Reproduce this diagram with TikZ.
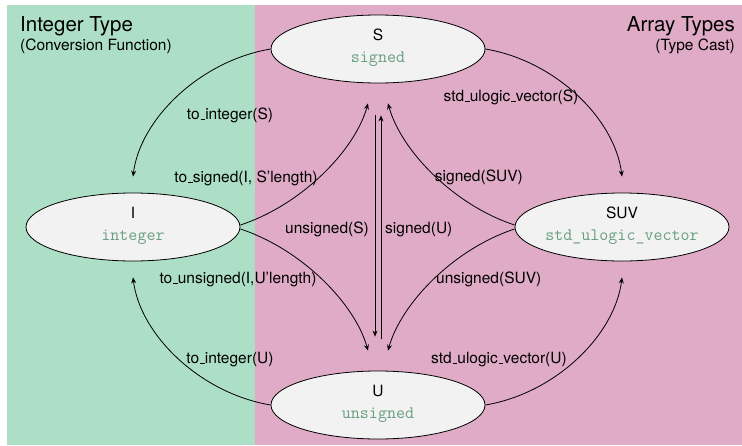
\documentclass[tikz,border=0pt]{standalone}
\usepackage{fontspec}
\setmainfont{TeX Gyre Heros}
\usetikzlibrary{shapes.geometric,arrows.meta,calc}
\definecolor{intbg}{RGB}{173,223,199}
\definecolor{arrbg}{RGB}{223,171,199}
\definecolor{nodefill}{RGB}{242,242,242}
\definecolor{typetext}{RGB}{104,158,130}
\newcommand\lblsize{\fontsize{15.5}{18}\selectfont}
\newcommand\monosize{\fontsize{17.5}{20}\selectfont}
\newcommand\titlesize{\fontsize{20.5}{24}\selectfont}
% low rule used as underscore in function names
\newcommand\usc{\leavevmode\kern.06em\vbox{\hrule width.3em}}
\tikzset{
  typenode/.style={ellipse, draw=black, line width=0.8pt, fill=nodefill,
    minimum width=214pt, minimum height=68pt, inner sep=0pt},
  shortname/.style={font=\lblsize, inner sep=0pt, anchor=base},
  typename/.style={font=\monosize\ttfamily, text=typetext, inner sep=0pt, anchor=base},
  conv/.style={-{Stealth[length=6pt,width=5pt,inset=2pt]}, line width=0.8pt},
  lbl/.style={font=\lblsize, inner sep=0pt, anchor=base},
  heading/.style={font=\titlesize, inner sep=0pt},
  subheading/.style={font=\lblsize, inner sep=0pt},
}
\begin{document}
\begin{tikzpicture}[x=1pt,y=-1pt]
  % canvas and the two type regions
  \useasboundingbox (0,0) rectangle (742,445);
  \fill[white] (0,0) rectangle (742,445);
  \fill[intbg] (7,5) rectangle (255,445);
  \fill[arrbg] (255,5) rectangle (742,445);

  % region headings
  \node[heading, anchor=base west] (inthead) at (20,31) {Integer Type};
  \node[subheading, anchor=base west] (intsub) at (20,50) {(Conversion Function)};
  \node[heading, anchor=base east] (arrhead) at (735,31) {Array Types};
  \node[subheading, anchor=base east] (arrsub) at (735,50) {(Type Cast)};

  % the four types
  \node[typenode] (S) at (378,49) {};
  \node[typenode] (I) at (133,227) {};
  \node[typenode] (SUV) at (622,227) {};
  \node[typenode] (U) at (378,405) {};

  \foreach \nm/\abbr/\full in {S/S/signed, I/I/integer, SUV/SUV/std\_ulogic\_vector, U/U/unsigned}{
    \node[shortname] (\nm-abbr) at ($(\nm.center)+(0,-9)$) {\abbr};
    \node[typename] (\nm-full) at ($(\nm.center)+(0,13)$) {\full};
  }

  % conversion functions (integer side)
  \draw[conv] (S.west) .. controls +(-71,12) and +(7,-57) .. ($(I.north)+(0,-16)$);
  \draw[conv] ($(I.east)+(0,-2)$) .. controls +(61,-20) and +(-13,47) .. ($(S.south)+(-10,20)$);
  \draw[conv] ($(I.east)+(0,2)$) .. controls +(61,20) and +(-13,-47) .. ($(U.north)+(-10,-20)$);
  \draw[conv] (U.west) .. controls +(-71,-12) and +(7,57) .. ($(I.south)+(0,16)$);

  % type casts (array side)
  \draw[conv] (S.east) .. controls +(71,12) and +(-7,-57) .. ($(SUV.north)+(0,-16)$);
  \draw[conv] ($(SUV.west)+(0,-2)$) .. controls +(-61,-20) and +(13,47) .. ($(S.south)+(10,20)$);
  \draw[conv] ($(SUV.west)+(0,2)$) .. controls +(-61,20) and +(13,-47) .. ($(U.north)+(10,-20)$);
  \draw[conv] (U.east) .. controls +(71,-12) and +(-7,57) .. ($(SUV.south)+(0,16)$);

  % signed <-> unsigned
  \draw[conv] ($(S.south)+(-3,32)$) -- ($(U.north)+(-3,-34)$);
  \draw[conv] ($(U.north)+(3,-32)$) -- ($(S.south)+(3,32)$);

  % function and cast names
  \node[lbl] (l-toint-s) at (230,119) {to\usc integer(S)};
  \node[lbl] (l-tosigned) at (246,182) {to\usc signed(I, S’length)};
  \node[lbl] (l-tounsigned) at (238,283) {to\usc unsigned(I,U’length)};
  \node[lbl] (l-toint-u) at (230,363) {to\usc integer(U)};
  \node[lbl] (l-suv-s) at (511,101) {std\usc ulogic\usc vector(S)};
  \node[lbl, anchor=base east] (l-signed-suv) at (523,181) {signed(SUV)};
  \node[lbl, anchor=base east] (l-unsigned-s) at (369,233) {unsigned(S)};
  \node[lbl, anchor=base west] (l-signed-u) at (385,233) {signed(U)};
  \node[lbl, anchor=base west] (l-unsigned-suv) at (436,283) {unsigned(SUV)};
  \node[lbl, anchor=base west] (l-suv-u) at (431,363) {std\usc ulogic\usc vector(U)};
\end{tikzpicture}
\end{document}
